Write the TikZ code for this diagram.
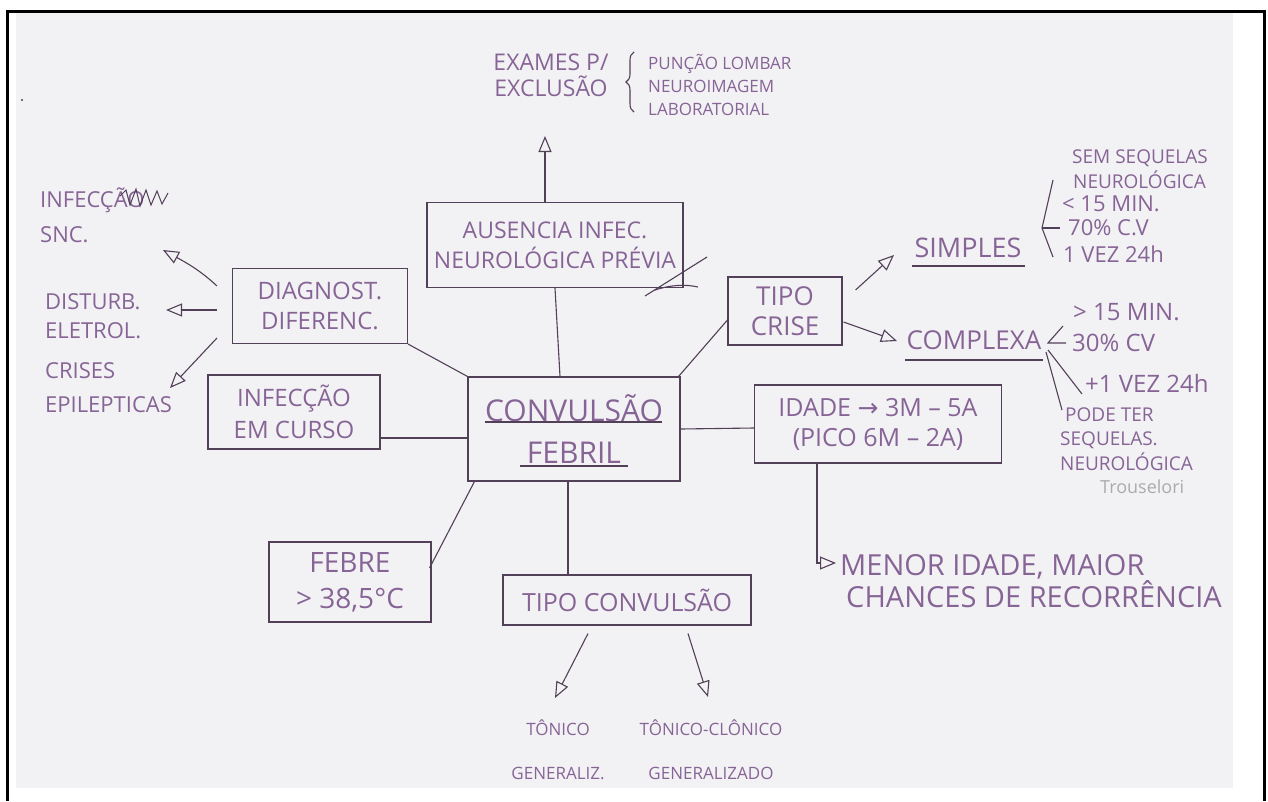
\documentclass[tikz,border=0pt]{standalone}
\usepackage{fontspec}
\setmainfont{Open Sans}
\newfontfamily\symfont{DejaVu Sans}
\usetikzlibrary{arrows.meta,calc,decorations.pathreplacing}
\definecolor{paper}{HTML}{F2F2F4}
\definecolor{ink}{HTML}{876496}
\definecolor{pen}{HTML}{523F58}
\definecolor{pencil}{HTML}{ABABAB}
\newcommand{\fsz}[2]{\fontsize{#1}{#2}\selectfont}
\tikzset{
  box/.style={draw=pen, line width=1.1pt, inner sep=0pt, align=center, text=ink},
  lbl/.style={text=ink, inner sep=0pt, align=center},
  lbll/.style={text=ink, inner sep=0pt, align=left, anchor=west},
  link/.style={draw=pen, line width=1.1pt},
  tri/.style={link, -{Triangle[open, length=16pt, width=13pt, line width=1.1pt]}}
}
\begin{document}
\begin{tikzpicture}[x=1pt, y=-1pt]
\useasboundingbox (0,0) rectangle (1268,801);
% sheet and frame
\fill[white] (0,0) rectangle (1268,801);
\fill[paper] (16,12.5) rectangle (1233,788);
\fill[black] (6,10) rectangle (8.5,801);
\fill[black] (6,10) rectangle (1265.5,12.5);
\fill[black] (1263,10) rectangle (1265.5,801);
\fill[pen] (22,100) circle (1.2);

% boxes
\node[box, minimum width=212, minimum height=104, font=\fsz{30}{42}] (conv) at (574,429) {CONVULSÃO\\FEBRIL};
\node[box, minimum width=175, minimum height=75, font=\fsz{24}{30}] (diag) at (320,306) {DIAGNOST.\\DIFERENC.};
\node[box, minimum width=256, minimum height=85, font=\fsz{23}{30}] (aus) at (555,245) {AUSENCIA INFEC.\\NEUROLÓGICA PRÉVIA};
\node[box, minimum width=114, minimum height=68, font=\fsz{26}{30}] (crise) at (785,311) {TIPO\\CRISE};
\node[box, minimum width=172, minimum height=74, font=\fsz{24}{32}] (infc) at (294,412) {INFECÇÃO\\EM CURSO};
\node[box, minimum width=247, minimum height=78, font=\fsz{25}{30}] (idade) at (878,424) {IDADE {\symfont→} 3M – 5A\\(PICO 6M – 2A)};
\node[box, minimum width=162, minimum height=80, font=\fsz{28}{36}] (febre) at (350,582) {FEBRE\\> 38,5°C};
\node[box, minimum width=248, minimum height=50, font=\fsz{25}{28}] (tconv) at (627,600) {TIPO CONVULSÃO};

% underlines in the central box
\draw[link] (485,422) -- (662,422);
\draw[link] (520,466) -- (628,466);

% free labels
\node[lbl, font=\fsz{23}{26}] (exames) at (551,75) {EXAMES P/\\EXCLUSÃO};
\node[lbll, font=\fsz{17}{23}] (exlist) at (648,85) {PUNÇÃO LOMBAR\\NEUROIMAGEM\\LABORATORIAL};
\draw[pen, line width=1.1pt, decorate, decoration={brace, amplitude=8pt}] (634,112) -- (634,52);

\node[lbll, font=\fsz{22}{35}] (snc) at (40,215) {INFECÇÃO\\SNC.};
\draw[pen, line width=1pt] (120,196) -- (126,190) -- (130,205) -- (136,189) -- (140,206) -- (146,190) -- (151,205) -- (157,191) -- (162,204) -- (168,193);
\node[lbll, font=\fsz{22}{29}] (dist) at (45,316) {DISTURB.\\ELETROL.};
\node[lbll, font=\fsz{22}{34}] (crises) at (45,388) {CRISES\\EPILEPTICAS};

\node[lbl, font=\fsz{27}{30}] (simples) at (968,248) {SIMPLES};
\node[lbl, font=\fsz{26}{30}] (complexa) at (974,340) {COMPLEXA};
\draw[link] (912,266) -- (1025,266);
\draw[link] (905,360) -- (1043,360);

\node[lbll, font=\fsz{19}{20}] (s1) at (1072,158) {SEM SEQUELAS};
\node[lbll, font=\fsz{19}{20}] (s2) at (1073,180) {NEUROLÓGICA};
\node[lbll, font=\fsz{22}{24}] (s3) at (1062,204) {< 15 MIN.};
\node[lbll, font=\fsz{22}{24}] (s4) at (1068,228) {70\% C.V};
\node[lbll, font=\fsz{22}{24}] (s5) at (1063,254) {1 VEZ 24h};
\draw[link] (1053,180) -- (1042,228) -- (1053,257);
\draw[link] (1042,228) -- (1060,228);

\node[lbll, font=\fsz{24}{26}] (c1) at (1073,312) {> 15 MIN.};
\node[lbll, font=\fsz{24}{26}] (c2) at (1072,343) {30\% CV};
\node[lbll, font=\fsz{24}{26}] (c3) at (1085,383) {+1 VEZ 24h};
\node[lbll, font=\fsz{19}{22}] (c4) at (1065,415) {PODE TER};
\node[lbll, font=\fsz{19}{22}] (c5) at (1060,440) {SEQUELAS.};
\node[lbll, font=\fsz{19}{22}] (c6) at (1060,462) {NEUROLÓGICA};
\node[lbll, font=\fsz{18}{22}, text=pencil] (c7) at (1100,487) {Trouselori};
\draw[link] (1063,326) -- (1048,343) -- (1066,343);
\draw[link] (1048,350) -- (1082,394);
\draw[link] (1046,352) -- (1062,410);

\node[lbll, font=\fsz{29}{32}] (menor) at (840,581) {MENOR IDADE, MAIOR\\\hspace*{6pt}CHANCES DE RECORRÊNCIA};

\node[lbl, font=\fsz{17}{44}] (tonico) at (558,750) {TÔNICO\\GENERALIZ.};
\node[lbl, font=\fsz{17}{44}] (tclon) at (711,750) {TÔNICO-CLÔNICO\\GENERALIZADO};

% stroke across the corner of the upper box
\draw[link] (645,296) -- (707,257);
\draw[link] (655,290) .. controls (670,285) and (685,284) .. (698,287);

% connectors
\coordinate (exTip) at (545,136);
\draw[tri] ($(aus.north)+(-10,0)$) -- (exTip);
\draw[link] (aus.south) -- ($(conv.north)+(-14,0)$);
\draw[link] (diag.south east) -- (conv.north west);
\draw[link] ($(conv.north east)+(-2,0)$) -- ($(crise.west)+(0,9)$);
\draw[link] (conv.east) -- ($(idade.west)+(0,4)$);
\draw[link] ($(infc.east)+(0,26)$) -- ($(conv.west)+(0,9)$);
\draw[link] ($(conv.south west)+(7,0)$) -- ($(febre.east)+(-2,-14)$);
\coordinate (cs) at ($(conv.south)+(-6,0)$);
\draw[link] (cs) -- (cs |- tconv.north);

\coordinate (sncTip) at (163,250);
\coordinate (disTip) at (166,310);
\coordinate (criTip) at (170,388);
\draw[tri] ($(diag.west)+(-15,-20)$) .. controls (200,270) and (185,262) .. (sncTip);
\draw[tri] ($(diag.west)+(-15,4)$) -- (disTip);
\draw[tri] ($(diag.west)+(-15,32)$) -- (criTip);

\coordinate (simTip) at (894,255);
\coordinate (comTip) at (897,341);
\draw[tri] ($(crise.east)+(13,-21)$) -- (simTip);
\draw[tri] ($(crise.east)+(1,11)$) -- (comTip);

\coordinate (menTip) at (836,563);
\draw[tri] ($(idade.south)+(-61,0)$) |- (menTip);

\coordinate (tonTip) at (555,698);
\coordinate (tclTip) at (708,697);
\draw[tri] ($(tconv.south)+(-39,8)$) -- (tonTip);
\draw[tri] ($(tconv.south)+(61,8)$) -- (tclTip);
\end{tikzpicture}
\end{document}
